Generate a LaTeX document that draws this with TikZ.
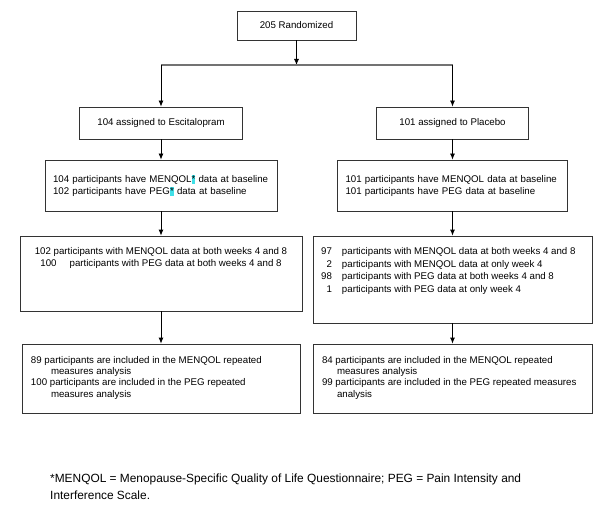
\documentclass[tikz,border=0pt]{standalone}
\usepackage{fontspec}
\setmainfont{Liberation Sans}
\usetikzlibrary{positioning,arrows.meta}
\definecolor{hilite}{RGB}{64,224,232}
\tikzset{
    block/.style = {
        draw=black!80,
        shape=rectangle,
        line width=0.8pt,
        inner sep=0pt,
        font=\fontsize{9.7}{12}\selectfont
    },
    link/.style = {
        draw=black,
        line width=0.8pt
    },
    split/.style = {
        draw=black!55,
        line width=1.3pt
    },
    >={Latex[length=6pt,width=5pt]},
}

\begin{document}
\begin{tikzpicture}[x=1pt,y=-1pt]
                \useasboundingbox (0,0) rectangle (600,508);
                \node[block, minimum width=119pt, minimum height=29pt] (rand) at (296.5,25.5) {205 Randomized};
                \node[block, minimum width=163pt, minimum height=32pt] (esc) at (161,123) {104 assigned to Escitalopram};
                \node[block, minimum width=152pt, minimum height=32pt] (plc) at (452.5,123) {101 assigned to Placebo};
                \node[block, minimum width=232pt, minimum height=51pt, text width=216pt, align=left] (escbase) at (161,185.5)
                    {104 participants have MENQOL{\fboxsep=0pt\colorbox{hilite}{\rule[-2pt]{0pt}{8.5pt}*}} data at baseline\\
                     102 participants have PEG{\fboxsep=0pt\colorbox{hilite}{\rule[-2pt]{0pt}{8.5pt}*}} data at baseline};
                \node[block, minimum width=230pt, minimum height=51pt, text width=214pt, align=left] (plcbase) at (452.5,185.5)
                    {101 participants have MENQOL data at baseline\\
                     101 participants have PEG data at baseline};
                \node[block] (escweeks) at (161,273.5)
                    {\parbox[c][75pt][t]{282pt}{\centering\vspace*{11.5pt}%
                     102 participants with MENQOL data at both weeks 4 and 8\\
                     100\hspace{13pt}participants with PEG data at both weeks 4 and 8}};
                \node[block] (plcweeks) at (452.5,279.5)
                    {\parbox[c][87pt][t]{279pt}{\fontsize{9.7}{12.6}\selectfont\vspace*{11.5pt}%
                     \hspace*{5pt}\makebox[14pt][r]{97}\hspace{10pt}participants with MENQOL data at both weeks 4 and 8\\
                     \hspace*{5pt}\makebox[14pt][r]{2}\hspace{10pt}participants with MENQOL data at only week 4\\
                     \hspace*{5pt}\makebox[14pt][r]{98}\hspace{10pt}participants with PEG data at both weeks 4 and 8\\
                     \hspace*{5pt}\makebox[14pt][r]{1}\hspace{10pt}participants with PEG data at only week 4}};
                \node[block] (escanalysis) at (161,378.5)
                    {\parbox[c][69pt][t]{278pt}{\fontsize{9.7}{11.4}\selectfont\vspace*{12pt}%
                     \hspace*{9pt}89 participants are included in the MENQOL repeated\\
                     \hspace*{29pt}measures analysis\\
                     \hspace*{9pt}100 participants are included in the PEG repeated\\
                     \hspace*{29pt}measures analysis}};
                \node[block] (plcanalysis) at (452.5,378.5)
                    {\parbox[c][69pt][t]{279pt}{\fontsize{9.7}{11.4}\selectfont\vspace*{12pt}%
                     \hspace*{9pt}84 participants are included in the MENQOL repeated\\
                     \hspace*{24pt}measures analysis\\
                     \hspace*{9pt}99 participants are included in the PEG repeated measures\\
                     \hspace*{24pt}analysis}};
                \node[anchor=west, align=left, inner sep=0pt, font=\fontsize{11.9}{17}\selectfont] (note) at (50,486.5)
                    {*MENQOL = Menopause-Specific Quality of Life Questionnaire; PEG = Pain Intensity and\\
                     Interference Scale.};

                \coordinate (split) at (296.5,65);
                \coordinate (splitl) at (161,65);
                \coordinate (splitr) at (452.5,65);

                \path[link, ->] (rand) -- (split);
                \path[split] (splitl) -- (splitr);
                \path[link, ->] (splitl) -- (esc);
                \path[link, ->] (splitr) -- (plc);
                \path[link, ->] (esc) -- (escbase);
                \path[link, ->] (plc) -- (plcbase);
                \path[link, ->] (escbase) -- (escweeks);
                \path[link, ->] (plcbase) -- (plcweeks);
                \path[link, ->] (escweeks) -- (escanalysis);
                \path[link, ->] (plcweeks) -- (plcanalysis);
            \end{tikzpicture}
\end{document}
